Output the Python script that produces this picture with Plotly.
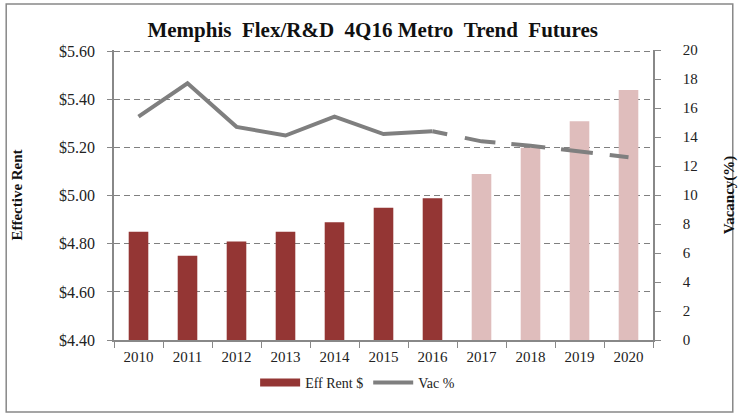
import plotly.graph_objects as go

years = ["2010", "2011", "2012", "2013", "2014", "2015", "2016", "2017", "2018", "2019", "2020"]
eff_rent = [4.85, 4.75, 4.81, 4.85, 4.89, 4.95, 4.99, 5.09, 5.20, 5.31, 5.44]
vacancy = [15.4, 17.7, 14.7, 14.1, 15.4, 14.2, 14.4, 13.7, 13.4, 13.0, 12.6]
forecast_start = "2017"
last_actual = "2016"

split = years.index(forecast_start)
last = years.index(last_actual)

dark_red = "#943634"
light_red = "#DFBDBC"
bar_colors = [dark_red if i < split else light_red for i in range(len(years))]
line_gray = "#7F7F7F"

serif = "Liberation Serif, Times New Roman, serif"
S = "\u00a0"

fig = go.Figure()
fig.add_trace(go.Bar(
    x=years, y=eff_rent, name="Eff Rent $",
    marker=dict(color=bar_colors, line=dict(width=0)),
    yaxis="y", width=0.4, showlegend=False,
))
# legend entry for bars (wide swatch like the original)
fig.add_trace(go.Scatter(
    x=[None], y=[None], name="Eff Rent $", mode="lines",
    line=dict(color=dark_red, width=8), yaxis="y",
))
fig.add_trace(go.Scatter(
    x=years[:last + 1], y=vacancy[:last + 1], name="Vac %",
    mode="lines", line=dict(color=line_gray, width=4),
    yaxis="y2",
))
fig.add_trace(go.Scatter(
    x=years[last:], y=vacancy[last:], name="Vac % forecast",
    mode="lines",
    line=dict(color=line_gray, width=4,
              dash="15px,18px,31px,16px,34px,16px,32px,17px,20px,200px"),
    yaxis="y2", showlegend=False,
))

title_text = "<b>Memphis" + S + S + "Flex/R&D" + S + S + "4Q16" + S + "Metro" + S + S + "Trend" + S + S + "Futures</b>"

fig.update_layout(
    width=738, height=419,
    margin=dict(l=114, r=85, t=50, b=79, autoexpand=False),
    paper_bgcolor="white", plot_bgcolor="white",
    font=dict(family=serif, size=15, color="#222"),
    title=dict(text=title_text,
               x=0.505, xanchor="center", y=0.93, yanchor="middle",
               font=dict(family=serif, size=21, color="#111")),
    xaxis=dict(type="category", showline=True, linecolor="#888", linewidth=1.5,
               ticks="outside", tickson="boundaries", ticklen=6, tickcolor="#888",
               showgrid=False, ticklabelstandoff=2, automargin=False,
               tickfont=dict(family=serif, size=15, color="#222")),
    yaxis=dict(range=[4.40, 5.606], dtick=0.2, tick0=4.40, tickformat="$.2f",
               showline=True, linecolor="#888", linewidth=1.5,
               ticks="outside", ticklen=5, tickcolor="#888",
               showgrid=True, gridcolor="#808080", griddash="6px,4px", gridwidth=1.4,
               zeroline=False, ticklabelstandoff=9, automargin=False,
               tickfont=dict(family=serif, size=16, color="#222"),
               title=dict(text="<b>Effective" + S + "Rent</b>", standoff=33,
                          font=dict(family=serif, size=15, color="#111"))),
    yaxis2=dict(range=[0, 20], dtick=2, overlaying="y", side="right",
                showline=True, linecolor="#888", linewidth=1.5,
                ticks="outside", ticklen=6, tickcolor="#888",
                showgrid=False, zeroline=False, ticklabelstandoff=19,
                automargin=False,
                tickfont=dict(family=serif, size=15, color="#222"),
                title=dict(text="<b>Vacancy(%)</b>", standoff=31,
                           font=dict(family=serif, size=15, color="#111"))),
    legend=dict(orientation="h", x=0.452, xanchor="center", y=-0.148, yanchor="middle",
                font=dict(family=serif, size=14, color="#222"),
                bgcolor="rgba(0,0,0,0)", itemwidth=40, tracegroupgap=0),
    bargap=0.6,
    shapes=[dict(type="rect", xref="paper", yref="paper",
                 x0=-0.2, x1=1.148, y0=-0.248, y1=1.159,
                 line=dict(color="#888", width=1.5), fillcolor="rgba(0,0,0,0)",
                 layer="below")],
)

fig.write_html("out.html", config={"displayModeBar": False},
               post_script="document.body.style.margin='0';")
